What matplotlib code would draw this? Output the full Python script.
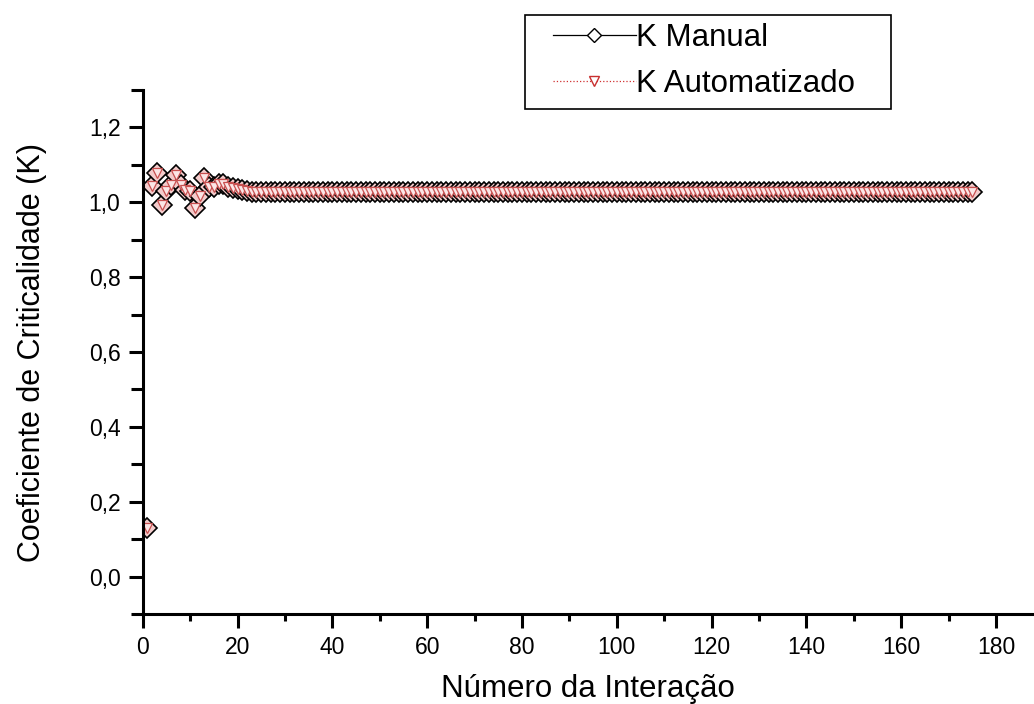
import numpy as np
import matplotlib
matplotlib.use("Agg")
import matplotlib.pyplot as plt
from matplotlib.ticker import MultipleLocator, FuncFormatter
from matplotlib.lines import Line2D
from matplotlib.patches import Rectangle

plt.rcParams['font.family'] = ['Liberation Sans', 'DejaVu Sans']

# valores: iteracoes 1..22 (fase de oscilacao)
iter_inicio = [1, 2, 3, 4, 5, 6, 7, 8, 9, 10, 11, 12, 13, 14, 15, 16, 17, 18, 19, 20, 21, 22]
k_inicio = [0.13, 1.043, 1.078, 0.992, 1.03, 1.045, 1.074, 1.045, 1.033, 1.031, 0.984, 1.016,
            1.065, 1.042, 1.042, 1.049, 1.049, 1.042, 1.038, 1.035, 1.033, 1.031]
# depois disso o K fica praticamente constante ate a iteracao 175
k_estavel = 1.027
ultima_iter = 175

iteracoes = np.array(iter_inicio + list(range(23, ultima_iter + 1)))
k_manual = np.array(k_inicio + [k_estavel] * (ultima_iter - 22))
k_auto = k_manual.copy()  # as duas curvas se sobrepoem

W, H = 1034, 704
fig = plt.figure(figsize=(W / 100, H / 100), dpi=100)
ax = fig.add_axes([142.7 / W, 90 / H, 1 - 142.7 / W, 524 / H])

# so os marcadores aparecem no grafico (as linhas ficam escondidas)
ax.plot(iteracoes, k_manual, ls='none', marker='D', ms=10,
        mfc='#f3cccc', mec='black', mew=1.2)
ax.plot(iteracoes, k_auto, ls='none', marker='v', ms=6.5,
        mfc='#fbe6e6', mec='#c85050', mew=0.9)

ax.set_xlim(0, 188)
ax.set_ylim(-0.1, 1.3)
ax.xaxis.set_major_locator(MultipleLocator(20))
ax.xaxis.set_minor_locator(MultipleLocator(10))
ax.yaxis.set_major_locator(MultipleLocator(0.2))
ax.yaxis.set_minor_locator(MultipleLocator(0.1))
ax.yaxis.set_major_formatter(FuncFormatter(lambda v, p: ('%.1f' % v).replace('.', ',')))
ax.xaxis.set_major_formatter(FuncFormatter(lambda v, p: '%d' % v))

for s in ['top', 'right']:
    ax.spines[s].set_visible(False)
for s in ['left', 'bottom']:
    ax.spines[s].set_linewidth(2.2)
ax.tick_params(which='major', length=10, width=2.2, labelsize=16.5, colors='black')
ax.tick_params(axis='x', which='minor', length=5, width=2.2)
ax.tick_params(axis='y', which='minor', length=9, width=2.2)
ax.tick_params(axis='x', pad=6)
ax.tick_params(axis='y', pad=6)

ax.set_xlabel('Número da Interação', fontsize=22.5, labelpad=11)
ax.set_ylabel('Coeficiente de Criticalidade (K)', fontsize=22, labelpad=30)

handles = [Line2D([], [], color='black', lw=0.9, marker='D', ms=7, mfc='white', mec='black', mew=1.0),
           Line2D([], [], color='#d03030', lw=0.9, ls=':', marker='v', ms=6.5, mfc='white',
                  mec='#c83030', mew=1.0)]
leg = fig.legend(handles, ['K Manual', 'K Automatizado'], loc='upper left',
                 bbox_to_anchor=(553 / W, 1 - 23 / H), fontsize=22.5,
                 frameon=False, handlelength=2.65, handletextpad=0.0,
                 borderpad=0, labelspacing=0.5, borderaxespad=0)
# caixa da legenda
fig.patches.append(Rectangle((525 / W, 1 - 109 / H), 366 / W, 94 / H, transform=fig.transFigure,
                             fill=False, edgecolor='black', linewidth=1.2))

fig.savefig('out.png', dpi=100)
